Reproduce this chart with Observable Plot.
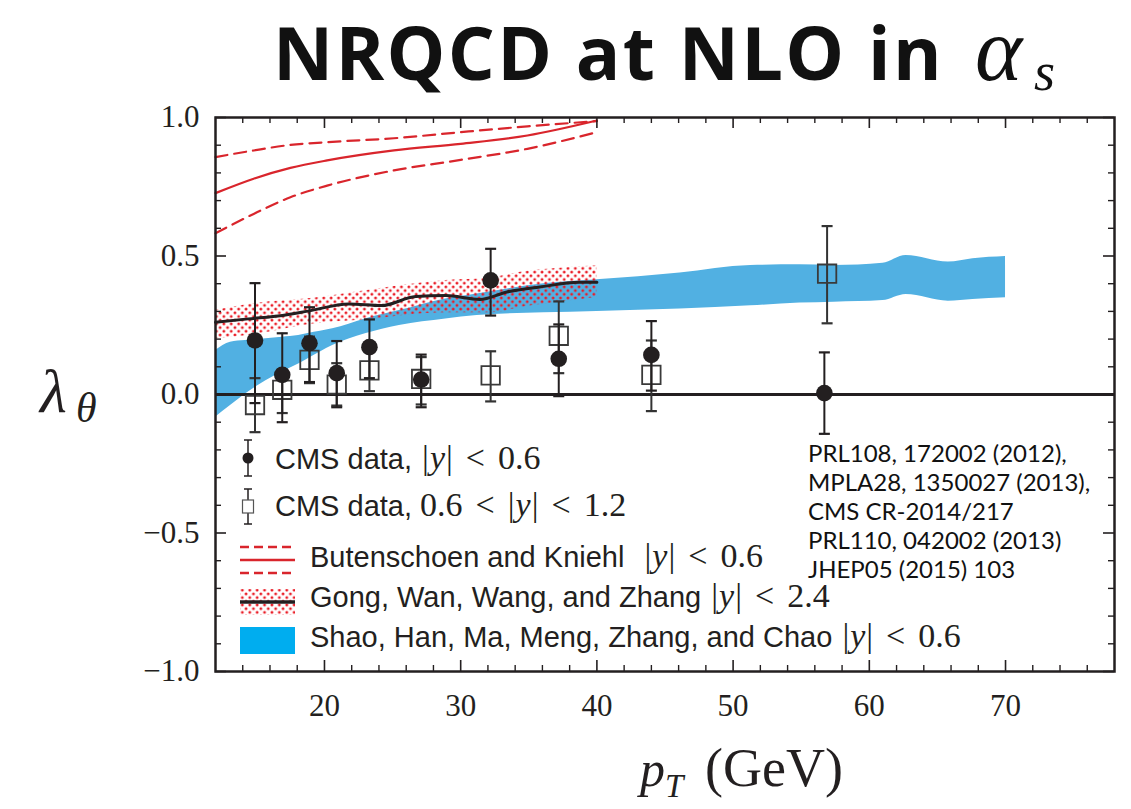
<!DOCTYPE html>
<html>
<head>
<meta charset="utf-8">
<script src="https://cdn.jsdelivr.net/npm/d3@7"></script>
<script src="https://cdn.jsdelivr.net/npm/@observablehq/plot@0.6"></script>
<style>
  html, body { margin: 0; padding: 0; background: #fff; }
  #wrap { position: relative; width: 1131px; height: 809px; background: #fff; overflow: hidden; }
  #title { position: absolute; left: 0; top: 0; width: 1131px; height: 100px; }
  #chart { position: absolute; left: 0; top: 100px; }
  #overlay { position: absolute; left: 0; top: 0; pointer-events: none; }
</style>
</head>
<body>
<div id="wrap">
  <div id="title"></div>
  <div id="chart"></div>
  <svg id="overlay" width="1131" height="809"></svg>
</div>
<script>
// ---------------- data ----------------
// CMS data, |y| < 0.6 (filled circles)
const ptCircle   = [14.9, 16.9, 18.9, 20.9, 23.3, 27.1, 32.2, 37.2, 44.0, 56.7];
const lamCircle  = [0.195, 0.071, 0.185, 0.077, 0.171, 0.054, 0.412, 0.129, 0.143, 0.005];
const lamCircleLo = [-0.031, -0.100, 0.045, -0.046, 0.059, -0.046, 0.285, -0.006, 0.014, -0.142];
const lamCircleHi = [0.402, 0.221, 0.315, 0.193, 0.271, 0.144, 0.526, 0.253, 0.265, 0.152];

// CMS data, 0.6 < |y| < 1.2 (open squares)
const ptSquare   = [14.9, 16.9, 18.9, 20.9, 23.3, 27.1, 32.2, 37.2, 44.0, 56.9];
const lamSquare  = [-0.038, 0.017, 0.125, 0.036, 0.087, 0.056, 0.069, 0.212, 0.071, 0.436];
const lamSquareLo = [-0.136, -0.067, 0.041, -0.040, 0.012, -0.036, -0.025, 0.077, -0.060, 0.257];
const lamSquareHi = [0.059, 0.090, 0.209, 0.113, 0.162, 0.135, 0.156, 0.336, 0.195, 0.608];

// Butenschoen and Kniehl |y| < 0.6
const bkPt      = [12, 14.8, 17.5, 20.2, 25.1, 30.0, 34.9, 40.0];
const bkCentral = [0.727, 0.779, 0.818, 0.845, 0.881, 0.905, 0.935, 0.989];
const bkUpper   = [0.857, 0.881, 0.901, 0.911, 0.925, 0.947, 0.968, 0.987];
const bkLower   = [0.582, 0.652, 0.712, 0.754, 0.809, 0.847, 0.887, 0.947];

// Gong, Wan, Wang, and Zhang |y| < 2.4
const gongPt      = [12, 14.4, 16.9, 18.8, 21.8, 24.2, 26.7, 28.9, 31.4, 33.4, 35.8, 38.7, 40];
const gongCentral = [0.261, 0.273, 0.285, 0.301, 0.327, 0.321, 0.354, 0.357, 0.343, 0.370, 0.388, 0.405, 0.405];
const gongBandPt  = [12, 14.4, 19.3, 23.0, 28.9, 32.2, 34.5, 38.2, 40];
const gongUpper   = [0.303, 0.325, 0.348, 0.375, 0.412, 0.421, 0.442, 0.459, 0.465];
const gongLower   = [0.201, 0.213, 0.255, 0.270, 0.295, 0.295, 0.315, 0.339, 0.351];

// Shao, Han, Ma, Meng, Zhang, and Chao |y| < 0.6
const shaoPt    = [12, 13.1, 14.2, 15.7, 16.9, 18.1, 18.8, 20.6, 23.0, 25.5, 28.9, 31.2, 36.1, 40.0, 46.1, 51.3, 54.9, 57.4, 61.0, 62.7, 65.8, 67.6, 70];
const shaoUpper = [0.159, 0.189, 0.195, 0.201, 0.207, 0.213, 0.220, 0.237, 0.273, 0.303, 0.345, 0.363, 0.400, 0.414, 0.439, 0.466, 0.468, 0.466, 0.474, 0.502, 0.478, 0.490, 0.498];
const shaoLower = [-0.082, -0.040, 0.002, 0.050, 0.081, 0.110, 0.129, 0.177, 0.219, 0.249, 0.273, 0.285, 0.295, 0.300, 0.309, 0.320, 0.330, 0.333, 0.339, 0.361, 0.337, 0.343, 0.349];

// axes
const xDomain = [12, 78];
const yDomain = [-1, 1];
const xMajor = [20, 30, 40, 50, 60, 70];
const xMinor = d3.range(14, 78, 2).filter(v => v % 10 !== 0);
const yMajor = [-1, -0.5, 0, 0.5, 1];
const yMinor = d3.range(-9, 10).map(v => v / 10).filter(v => Math.abs(v * 10) % 5 !== 0);

const legendLabels = [
  "CMS data, ", "CMS data, ", "Butenschoen and Kniehl ", "Gong, Wan, Wang, and Zhang ", "Shao, Han, Ma, Meng, Zhang, and Chao "
];
const citations = [
  "PRL108, 172002 (2012),",
  "MPLA28, 1350027 (2013),",
  "CMS CR-2014/217",
  "PRL110, 042002 (2013)",
  "JHEP05 (2015) 103"
];

// ---------------- tables ----------------
const circles = ptCircle.map((pt, i) => ({pt, lam: lamCircle[i], lo: lamCircleLo[i], hi: lamCircleHi[i]}));
const squares = ptSquare.map((pt, i) => ({pt, lam: lamSquare[i], lo: lamSquareLo[i], hi: lamSquareHi[i]}));
const bk = bkPt.map((pt, i) => ({pt, c: bkCentral[i], u: bkUpper[i], l: bkLower[i]}));
const gong = gongPt.map((pt, i) => ({pt, c: gongCentral[i]}));
const gongBand = gongBandPt.map((pt, i) => ({pt, u: gongUpper[i], l: gongLower[i]}));
const shao = shaoPt.map((pt, i) => ({pt, u: shaoUpper[i], l: shaoLower[i]}));

const dark = "#231f20";
const red = "#d9252c";
const blue = "#51b0e2";

const capSymbol = { draw(ctx) { ctx.moveTo(-5.5, 0); ctx.lineTo(5.5, 0); } };

const W = 1131, H = 709;
const mT = 17, mB = 138, mL = 215, mR = 17;
const innerW = W - mL - mR, innerH = H - mT - mB;
const majLen = 11, minLen = 6;

const chart = Plot.plot({
  width: W, height: H,
  marginTop: mT, marginBottom: mB, marginLeft: mL, marginRight: mR,
  x: {domain: xDomain},
  y: {domain: yDomain},
  style: {fontFamily: "Liberation Serif", fontSize: "31px", color: dark, background: "transparent"},
  marks: [
    Plot.areaY(shao, {x: "pt", y1: "l", y2: "u", fill: blue, curve: "monotone-x"}),
    Plot.areaY(gongBand, {x: "pt", y1: "l", y2: "u", fill: "url(#dots)", curve: "monotone-x"}),
    Plot.line(gong, {x: "pt", y: "c", stroke: dark, strokeWidth: 3, curve: "monotone-x"}),
    Plot.line(bk, {x: "pt", y: "c", stroke: red, strokeWidth: 2.2, curve: "monotone-x"}),
    Plot.line(bk, {x: "pt", y: "u", stroke: red, strokeWidth: 2.2, strokeDasharray: "12,7", curve: "monotone-x"}),
    Plot.line(bk, {x: "pt", y: "l", stroke: red, strokeWidth: 2.2, strokeDasharray: "12,7", curve: "monotone-x"}),
    Plot.ruleY([0], {stroke: dark, strokeWidth: 3}),
    // squares
    Plot.ruleX(squares, {x: "pt", y1: "lo", y2: "hi", stroke: "#333", strokeWidth: 2}),
    Plot.dot(squares, {x: "pt", y: "lo", symbol: capSymbol, stroke: "#333", strokeWidth: 2.2, fill: "none"}),
    Plot.dot(squares, {x: "pt", y: "hi", symbol: capSymbol, stroke: "#333", strokeWidth: 2.2, fill: "none"}),
    Plot.dot(squares, {x: "pt", y: "lam", symbol: "square", r: 10.4, stroke: "#3a3a3a", strokeWidth: 1.8, fill: "none"}),
    // circles
    Plot.ruleX(circles, {x: "pt", y1: "lo", y2: "hi", stroke: dark, strokeWidth: 2}),
    Plot.dot(circles, {x: "pt", y: "lo", symbol: capSymbol, stroke: dark, strokeWidth: 2.2, fill: "none"}),
    Plot.dot(circles, {x: "pt", y: "hi", symbol: capSymbol, stroke: dark, strokeWidth: 2.2, fill: "none"}),
    Plot.dot(circles, {x: "pt", y: "lam", r: 8.3, fill: dark, stroke: "none"}),
    // inward ticks
    Plot.tickX(xMajor, {x: d => d, stroke: dark, strokeWidth: 1.6, insetTop: innerH - majLen}),
    Plot.tickX(xMinor, {x: d => d, stroke: dark, strokeWidth: 1.4, insetTop: innerH - minLen}),
    Plot.tickX(xMajor, {x: d => d, stroke: dark, strokeWidth: 1.6, insetBottom: innerH - majLen}),
    Plot.tickX(xMinor, {x: d => d, stroke: dark, strokeWidth: 1.4, insetBottom: innerH - minLen}),
    Plot.tickY(yMajor, {y: d => d, stroke: dark, strokeWidth: 1.6, insetRight: innerW - majLen}),
    Plot.tickY(yMinor, {y: d => d, stroke: dark, strokeWidth: 1.4, insetRight: innerW - minLen}),
    Plot.tickY(yMajor, {y: d => d, stroke: dark, strokeWidth: 1.6, insetLeft: innerW - majLen}),
    Plot.tickY(yMinor, {y: d => d, stroke: dark, strokeWidth: 1.4, insetLeft: innerW - minLen}),
    Plot.axisX({ticks: xMajor, tickSize: 0, tickPadding: 22, tickFormat: d => String(d), label: null}),
    Plot.axisY({ticks: yMajor, tickSize: 0, tickPadding: 16, tickFormat: d => (d < 0 ? "\u2212" : "") + Math.abs(d).toFixed(1), label: null}),
    Plot.frame({stroke: dark, strokeWidth: 2.5})
  ]
});

// dotted pattern for the Gong band
const ns = "http://www.w3.org/2000/svg";
function makeDots(id) {
  const pat = document.createElementNS(ns, "pattern");
  pat.setAttribute("id", id);
  pat.setAttribute("patternUnits", "userSpaceOnUse");
  pat.setAttribute("width", "7.4");
  pat.setAttribute("height", "7.4");
  [[1.85, 1.85], [5.55, 5.55]].forEach(([cx, cy]) => {
    const c = document.createElementNS(ns, "circle");
    c.setAttribute("cx", cx); c.setAttribute("cy", cy); c.setAttribute("r", "1.45");
    c.setAttribute("fill", "#ea1c26");
    pat.appendChild(c);
  });
  return pat;
}
const defs = document.createElementNS(ns, "defs");
defs.appendChild(makeDots("dots"));
chart.insertBefore(defs, chart.firstChild);
document.getElementById("chart").appendChild(chart);

// ---------------- overlay: title, axis labels, legend, citations ----------------
const ov = d3.select("#overlay");
const odefs = ov.append("defs");
odefs.node().appendChild(makeDots("dots2"));

// title
ov.append("text").attr("x", 273).attr("y", 80)
  .attr("font-family", "Open Sans").attr("font-weight", 700).attr("font-size", 74).attr("fill", "#111")
  .attr("letter-spacing", 2.3)
  .text("NRQCD at NLO in");
ov.append("text").attr("x", 975).attr("y", 80).attr("font-family", "Liberation Serif").attr("font-style", "italic")
  .attr("font-size", 90).attr("fill", "#111").text("α");
ov.append("text").attr("x", 1034).attr("y", 90).attr("font-family", "Liberation Serif").attr("font-style", "italic")
  .attr("font-size", 54).attr("fill", "#111").text("s");

// y label
ov.append("text").attr("x", 40).attr("y", 412).attr("font-family", "Liberation Serif").attr("font-style", "italic")
  .attr("font-size", 62).attr("fill", dark).text("λ");
ov.append("text").attr("x", 76).attr("y", 422).attr("font-family", "Liberation Serif").attr("font-style", "italic")
  .attr("font-size", 42).attr("fill", dark).text("θ");

// x label
ov.append("text").attr("x", 640).attr("y", 786).attr("font-family", "Liberation Serif").attr("font-style", "italic")
  .attr("font-size", 50).attr("fill", dark).text("p");
ov.append("text").attr("x", 665).attr("y", 797).attr("font-family", "Liberation Serif").attr("font-style", "italic")
  .attr("font-size", 33).attr("fill", dark).text("T");
ov.append("text").attr("x", 705).attr("y", 786).attr("font-family", "Liberation Serif")
  .attr("font-size", 54).attr("fill", dark).text("(GeV)");

// legend text with math parts: [text, italic, dx]
const mathParts = [
  [["|", false, 2], ["y", true, 1], ["|", false, 1], ["<", false, 13], ["0.6", false, 13]],
  [["0.6", false, 0], ["<", false, 13], ["|", false, 13], ["y", true, 1], ["|", false, 1], ["<", false, 13], ["1.2", false, 13]],
  [["|", false, 12], ["y", true, 1], ["|", false, 1], ["<", false, 13], ["0.6", false, 13]],
  [["|", false, 2], ["y", true, 1], ["|", false, 1], ["<", false, 13], ["2.4", false, 13]],
  [["|", false, 2], ["y", true, 1], ["|", false, 1], ["<", false, 13], ["0.6", false, 13]]
];
const legX = [275, 275, 310, 310, 310];
const legY = [469, 516, 567, 607, 647];
legendLabels.forEach((lab, i) => {
  const tx = ov.append("text").attr("x", legX[i]).attr("y", legY[i]).attr("fill", dark).attr("font-size", 29);
  tx.append("tspan").attr("font-family", "Liberation Sans").text(lab);
  mathParts[i].forEach(([s, it, dx]) => {
    tx.append("tspan").attr("font-family", "Liberation Serif").attr("font-style", it ? "italic" : "normal")
      .attr("font-size", 34).attr("dx", dx).text(s);
  });
});

// legend symbols
// row 1: filled circle with error bar
ov.append("line").attr("x1", 248).attr("x2", 248).attr("y1", 440).attr("y2", 476).attr("stroke", dark).attr("stroke-width", 1.5);
[440, 476].forEach(y => ov.append("line").attr("x1", 244).attr("x2", 252).attr("y1", y).attr("y2", y).attr("stroke", dark).attr("stroke-width", 1.5));
ov.append("circle").attr("cx", 248).attr("cy", 458).attr("r", 5.5).attr("fill", dark);
// row 2: open square with error bar
ov.append("line").attr("x1", 248).attr("x2", 248).attr("y1", 489).attr("y2", 524).attr("stroke", dark).attr("stroke-width", 1.5);
[489, 524].forEach(y => ov.append("line").attr("x1", 244).attr("x2", 252).attr("y1", y).attr("y2", y).attr("stroke", dark).attr("stroke-width", 1.5));
ov.append("rect").attr("x", 242.5).attr("y", 500).attr("width", 11).attr("height", 13).attr("fill", "#fff").attr("stroke", "#555").attr("stroke-width", 1.2);
// row 3: red lines
ov.append("line").attr("x1", 240).attr("x2", 295).attr("y1", 547).attr("y2", 547).attr("stroke", red).attr("stroke-width", 2.5).attr("stroke-dasharray", "9,5");
ov.append("line").attr("x1", 240).attr("x2", 295).attr("y1", 560).attr("y2", 560).attr("stroke", red).attr("stroke-width", 2.5);
ov.append("line").attr("x1", 240).attr("x2", 295).attr("y1", 573).attr("y2", 573).attr("stroke", red).attr("stroke-width", 2.5).attr("stroke-dasharray", "9,5");
// row 4: dotted swatch with black line
ov.append("rect").attr("x", 240).attr("y", 589).attr("width", 55).attr("height", 26).attr("fill", "url(#dots2)");
ov.append("line").attr("x1", 240).attr("x2", 295).attr("y1", 602).attr("y2", 602).attr("stroke", dark).attr("stroke-width", 3.5);
// row 5: blue swatch
ov.append("rect").attr("x", 240).attr("y", 627).attr("width", 55).attr("height", 27).attr("fill", "#00adef");

// citations
citations.forEach((c, i) => {
  ov.append("text").attr("x", 808).attr("y", 462 + i * 29).attr("font-family", "Lato")
    .attr("font-size", 24).attr("fill", "#111").text(c);
});
</script>
</body>
</html>
